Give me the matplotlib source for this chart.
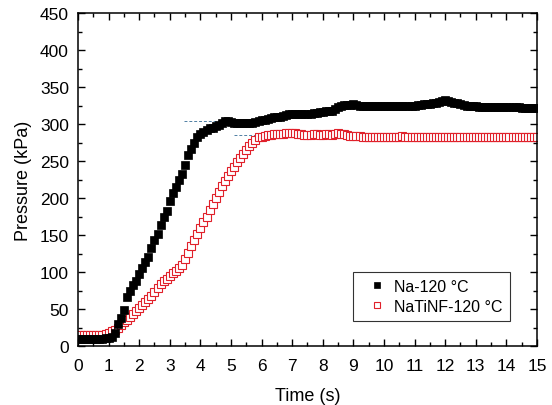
import numpy as np
import matplotlib.pyplot as plt
from matplotlib.ticker import MultipleLocator

plt.rcParams['font.family'] = ['Liberation Sans', 'DejaVu Sans']

dt = 0.1
# Na-120 C, one value every 0.1 s from 0 to 15 s
na_p = [10, 10, 10, 10, 10, 10, 10, 10, 10, 11,
        11, 12, 18, 30, 38, 48, 66, 74, 82, 88,
        97, 105, 113, 120, 132, 143, 152, 163, 174, 183,
        196, 207, 215, 224, 232, 245, 258, 266, 274, 282,
        287, 289, 292, 294, 295, 297, 299, 302, 304, 304,
        303, 302, 302, 301, 301, 301, 301, 302, 303, 304,
        305, 306, 307, 308, 309, 309, 310, 311, 312, 313,
        313, 313, 313, 313, 314, 314, 314, 315, 315, 316,
        316, 317, 317, 318, 320, 323, 325, 326, 326, 326,
        327, 326, 325, 324, 324, 324, 324, 324, 324, 324,
        324, 324, 324, 324, 324, 325, 325, 325, 325, 325,
        325, 326, 326, 327, 327, 327, 328, 329, 330, 331,
        332, 331, 330, 329, 328, 327, 326, 325, 325, 324,
        324, 323, 323, 323, 323, 323, 323, 323, 323, 323,
        323, 323, 323, 323, 323, 322, 322, 322, 322, 322,
        322]
# NaTiNF-120 C
natinf_p = [15, 15, 15, 15, 15, 15, 15, 15, 15, 16,
            18, 20, 22, 25, 28, 32, 35, 39, 43, 47,
            51, 55, 59, 63, 68, 73, 78, 84, 88, 91,
            95, 98, 101, 105, 110, 118, 126, 135, 143, 151,
            159, 167, 175, 184, 192, 200, 208, 216, 223, 230,
            236, 242, 248, 254, 260, 265, 270, 275, 279, 282,
            283, 284, 285, 285, 286, 286, 287, 287, 288, 288,
            288, 288, 287, 286, 285, 285, 285, 286, 286, 285,
            285, 286, 286, 285, 286, 288, 287, 286, 285, 284,
            284, 284, 284, 283, 283, 283, 283, 283, 283, 283,
            283, 283, 283, 283, 283, 283, 284, 283, 283, 283,
            283, 283, 283, 283, 283, 283, 283, 283, 283, 283,
            283, 283, 283, 283, 283, 283, 283, 283, 283, 283,
            283, 283, 283, 283, 283, 283, 283, 283, 283, 283,
            283, 283, 283, 283, 283, 283, 283, 283, 283, 283,
            283]
t_na = np.arange(len(na_p)) * dt
t_natinf = np.arange(len(natinf_p)) * dt

# guide lines at the plateau onsets
guide_y = [304, 285]
guide_x0 = [3.45, 5.1]
guide_x1 = [4.85, 5.9]

fig = plt.figure(figsize=(5.52, 4.06), dpi=100)
ax = fig.add_axes([0.1413, 0.1453, 0.8315, 0.8202])

for y, x0, x1 in zip(guide_y, guide_x0, guide_x1):
    ax.plot([x0, x1], [y, y], ls='--', color='#4f7fa3', lw=0.7, dashes=(3, 2), zorder=1)

ax.plot(t_natinf, natinf_p, ls='none', marker='s', ms=5.5, mfc='white', mec='#e0202a',
        mew=0.8, label='NaTiNF-120 °C', zorder=2)
ax.plot(t_na, na_p, ls='none', marker='s', ms=5.5, mfc='black', mec='black',
        mew=0.5, label='Na-120 °C', zorder=3)

ax.set_xlim(0, 15)
ax.set_ylim(0, 450)
ax.xaxis.set_major_locator(MultipleLocator(1))
ax.xaxis.set_minor_locator(MultipleLocator(0.5))
ax.yaxis.set_major_locator(MultipleLocator(50))
ax.yaxis.set_minor_locator(MultipleLocator(25))
ax.tick_params(which='both', direction='in', top=True, right=True, labelsize=12.5)
ax.tick_params(which='major', length=5, width=1)
ax.tick_params(which='minor', length=3, width=1)
ax.tick_params(axis='x', which='both', pad=8.5)
ax.tick_params(axis='y', which='both', pad=6.5)
for s in ax.spines.values():
    s.set_linewidth(1.1)
ax.set_xlabel('Time (s)', fontsize=13, labelpad=10)
ax.set_ylabel('Pressure (kPa)', fontsize=13, labelpad=6)

h, l = ax.get_legend_handles_labels()
leg = ax.legend(h[::-1], l[::-1], loc='lower right', bbox_to_anchor=(0.941, 0.075),
                borderaxespad=0, fontsize=11.5, frameon=True, fancybox=False,
                edgecolor='black', handlelength=2.0, handletextpad=0.1,
                borderpad=0.45, labelspacing=0.3, markerscale=0.9)
leg.get_frame().set_linewidth(0.8)

fig.savefig('out.png', dpi=100)
